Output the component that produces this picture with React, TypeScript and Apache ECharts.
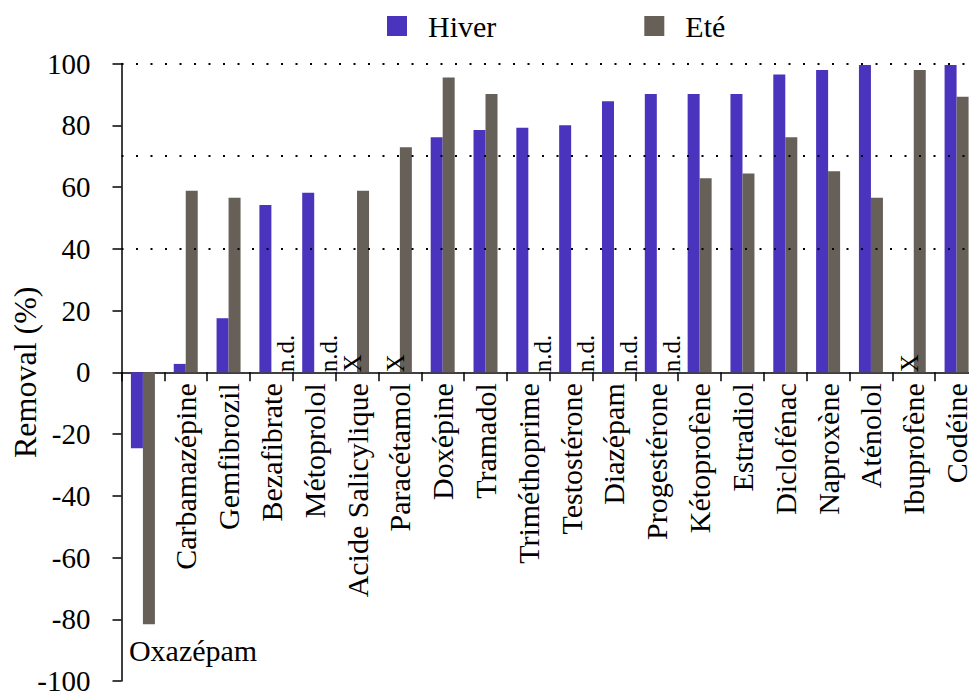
import React, { useEffect, useRef } from 'react';
import * as echarts from 'echarts';

const FONT = 'Liberation Serif, Times New Roman, serif';

const categories = [
  'Oxazépam', 'Carbamazépine', 'Gemfibrozil', 'Bezafibrate', 'Métoprolol',
  'Acide Salicylique', 'Paracétamol', 'Doxépine', 'Tramadol', 'Triméthoprime',
  'Testostérone', 'Diazépam', 'Progestérone', 'Kétoprofène', 'Estradiol',
  'Diclofénac', 'Naproxène', 'Aténolol', 'Ibuprofène', 'Codéine',
];

const hiverValues: (number | null)[] = [
  -24.6, 2.7, 17.5, 54.2, 58.1,
  null, null, 76.1, 78.5, 79.2,
  80.0, 87.8, 90.1, 90.1, 90.1,
  96.4, 97.9, 99.5, null, 99.5,
];

const eteValues: (number | null)[] = [
  -81.6, 58.8, 56.5, null, null,
  58.8, 72.9, 95.5, 90.1, null,
  null, null, null, 62.8, 64.4,
  76.1, 65.1, 56.5, 97.9, 89.2,
];

const hiverNotes = [
  '', '', '', '', '',
  'X', 'X', '', '', '',
  '', '', '', '', '',
  '', '', '', 'X', '',
];

const eteNotes = [
  '', '', '', 'n.d.', 'n.d.',
  '', '', '', '', 'n.d.',
  'n.d.', 'n.d.', 'n.d.', '', '',
  '', '', '', '', '',
];

const yTicks = { min: -100, max: 100, interval: 20 };
const referenceLines = [100, 70, 40];
const seriesNames = ['Hiver', 'Eté'];
const colors = ['#4a33bd', '#676059'];

const CHART_H = 692;
const GRID_TOP = 63.5;
const GRID_BOTTOM = 11;

function buildData(values: (number | null)[], notes: string[], labelX: number) {
  return values.map((v, i) => {
    if (v !== null) return v;
    const note = notes[i];
    return {
      value: 0,
      label: {
        show: !!note,
        formatter: note,
        position: [labelX, 0],
        rotate: 90,
        align: 'left',
        verticalAlign: 'middle',
        fontSize: 25,
        fontFamily: FONT,
        color: '#000',
      },
    };
  });
}

export default function App() {
  const ref = useRef<HTMLDivElement>(null);

  useEffect(() => {
    if (!ref.current) return;
    const chart = echarts.init(ref.current, null, { renderer: 'svg' });
    const axisLineStyle = { color: '#000', width: 1.5 };
    // distance from grid bottom up to the value 0 line
    const gridH = CHART_H - GRID_TOP - GRID_BOTTOM;
    const zeroOffset = (gridH * (0 - yTicks.min)) / (yTicks.max - yTicks.min);
    chart.setOption({
      animation: false,
      textStyle: { fontFamily: FONT },
      legend: {
        data: seriesNames,
        left: 382,
        top: 6,
        itemWidth: 20,
        itemHeight: 20,
        itemGap: 148,
        icon: 'rect',
        selectedMode: false,
        textStyle: {
          fontFamily: FONT,
          fontSize: 30,
          color: '#000',
          padding: [0, 0, 0, 16],
        },
      },
      grid: {
        left: 121.5,
        right: -9,
        top: GRID_TOP,
        bottom: GRID_BOTTOM,
        containLabel: false,
        outerBoundsMode: 'none',
      },
      xAxis: {
        type: 'category',
        data: categories,
        offset: -zeroOffset,
        axisLine: { show: true, onZero: false, lineStyle: axisLineStyle },
        axisTick: { show: true, length: 9, interval: 0, lineStyle: axisLineStyle },
        axisLabel: {
          interval: 0,
          rotate: 90,
          margin: 11,
          fontFamily: FONT,
          fontSize: 30,
          color: '#000',
          formatter: (v: string) => (v === categories[0] ? '' : v),
        },
        splitLine: { show: false },
      },
      yAxis: {
        type: 'value',
        min: yTicks.min,
        max: yTicks.max,
        interval: yTicks.interval,
        name: 'Removal (%)',
        nameLocation: 'middle',
        nameGap: 81,
        nameMoveOverlap: false,
        nameTextStyle: { fontFamily: FONT, fontSize: 32, color: '#000' },
        axisLine: { show: true, lineStyle: axisLineStyle },
        axisTick: { show: true, length: 9, lineStyle: axisLineStyle },
        axisLabel: { fontFamily: FONT, fontSize: 29, color: '#000', margin: 31 },
        splitLine: { show: false },
      },
      series: [
        {
          name: seriesNames[0],
          type: 'bar',
          barWidth: 12,
          barGap: '0%',
          itemStyle: { color: colors[0] },
          emphasis: { disabled: true },
          data: buildData(hiverValues, hiverNotes, 7.5),
          markPoint: {
            symbol: 'rect',
            symbolSize: 0,
            silent: true,
            label: {
              show: true,
              position: 'inside',
              align: 'left',
              verticalAlign: 'middle',
              offset: [-8, 0],
              fontFamily: FONT,
              fontSize: 30,
              color: '#000',
              formatter: categories[0],
            },
            data: [{ coord: [0, -90], value: 0 }],
          },
        },
        {
          name: seriesNames[1],
          type: 'bar',
          barWidth: 12,
          barGap: '0%',
          itemStyle: { color: colors[1] },
          emphasis: { disabled: true },
          data: buildData(eteValues, eteNotes, 14.5),
          markLine: {
            silent: true,
            symbol: ['none', 'none'],
            label: { show: false },
            lineStyle: { color: '#000', type: [2, 12.5], width: 2 },
            data: referenceLines.map((y) => ({ yAxis: y })),
          },
        },
      ],
    });
    return () => chart.dispose();
  }, []);

  return (
    <div
      ref={ref}
      style={{ position: 'absolute', left: 0, top: 0, width: 969, height: CHART_H }}
    />
  );
}
